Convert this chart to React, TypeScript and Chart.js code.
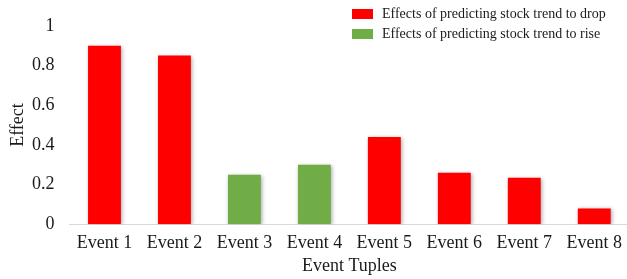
import React, { useEffect, useRef } from "react";
import { Chart, registerables } from "chart.js";

Chart.register(...registerables);

const categories = ["Event 1", "Event 2", "Event 3", "Event 4", "Event 5", "Event 6", "Event 7", "Event 8"];
const dropValues = [0.9, 0.85, null, null, 0.44, 0.26, 0.235, 0.08];
const riseValues = [null, null, 0.25, 0.3, null, null, null, null];
const dropLabel = "Effects of predicting stock trend to drop";
const riseLabel = "Effects of predicting stock trend to rise";
const yTicks = [0, 0.2, 0.4, 0.6, 0.8, 1];

const FONT = "'Liberation Serif', 'Times New Roman', serif";

const shadowPlugin = {
  id: "barShadow",
  beforeDatasetsDraw(chart: any) {
    const ctx = chart.ctx;
    ctx.save();
    ctx.shadowColor = "rgba(0,0,0,0.35)";
    ctx.shadowBlur = 4;
    ctx.shadowOffsetX = 1;
    ctx.shadowOffsetY = 1;
  },
  afterDatasetsDraw(chart: any) {
    chart.ctx.restore();
  },
};

const legendPlugin = {
  id: "customLegend",
  afterDraw(chart: any) {
    const ctx = chart.ctx;
    ctx.save();
    ctx.font = `14px ${FONT}`;
    ctx.textBaseline = "middle";
    ctx.textAlign = "left";
    chart.data.datasets.forEach((ds: any, i: number) => {
      const y = 9 + i * 20;
      ctx.fillStyle = ds.backgroundColor;
      ctx.fillRect(352, y, 21, 10);
      ctx.fillStyle = "#1a1a1a";
      ctx.fillText(ds.label, 382, y + 5.5);
    });
    ctx.restore();
  },
};

export default function App() {
  const ref = useRef<HTMLCanvasElement>(null);
  useEffect(() => {
    document.body.style.margin = "0";
    const chart = new Chart(ref.current as HTMLCanvasElement, {
      type: "bar",
      data: {
        labels: categories,
        datasets: [
          { label: dropLabel, data: dropValues as any, backgroundColor: "#FF0000", grouped: false, barPercentage: 0.47, categoryPercentage: 1 },
          { label: riseLabel, data: riseValues as any, backgroundColor: "#70AD47", grouped: false, barPercentage: 0.47, categoryPercentage: 1 },
        ],
      },
      options: {
        animation: false,
        responsive: false,
        devicePixelRatio: 1,
        layout: { padding: { top: 20, left: 0, right: 0, bottom: 0 } },
        plugins: { legend: { display: false }, tooltip: { enabled: false } },
        scales: {
          x: {
            grid: { display: false, drawTicks: false },
            border: { display: true, color: "#d9d9d9", width: 1 },
            ticks: { color: "#1a1a1a", font: { family: FONT, size: 18 }, padding: 8, maxRotation: 0, autoSkip: false },
            title: { display: true, text: "Event Tuples", color: "#1a1a1a", font: { family: FONT, size: 18 }, padding: { top: 0, bottom: 2 } },
            afterFit(scale: any) { scale.height = 54.7; },
          },
          y: {
            min: 0,
            max: 1,
            grid: { display: false, drawTicks: false },
            border: { display: false },
            afterBuildTicks(scale: any) { scale.ticks = yTicks.map((v) => ({ value: v })); },
            ticks: {
              color: "#1a1a1a",
              font: { family: FONT, size: 18 },
              padding: 15,
              callback: (v: any) => String(Math.round(Number(v) * 10) / 10),
            },
            title: { display: true, text: "Effect", color: "#1a1a1a", font: { family: FONT, size: 18 }, padding: { top: 7, bottom: 0 } },
            afterFit(scale: any) { scale.width = 69.5; },
          },
        },
      },
      plugins: [shadowPlugin, legendPlugin],
    });
    return () => chart.destroy();
  }, []);
  return (
    <div style={{ width: 627, height: 279, overflow: "hidden", background: "#fff" }}>
      <canvas ref={ref} width={630} height={279} style={{ display: "block" }} />
    </div>
  );
}
